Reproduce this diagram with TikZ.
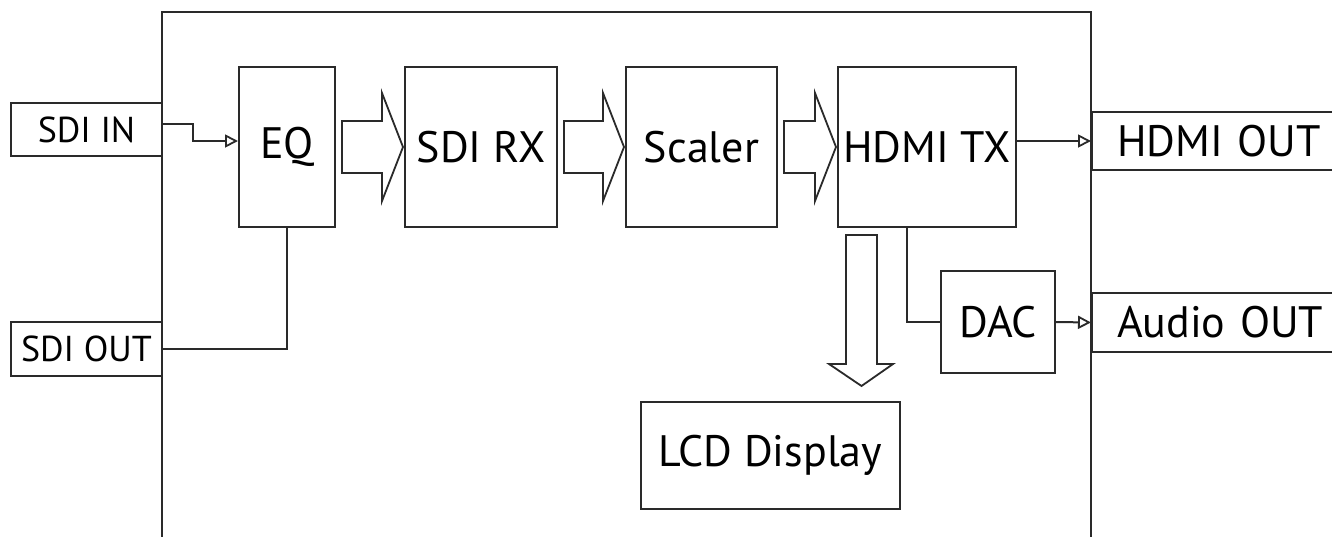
\documentclass[tikz,border=0pt]{standalone}
\usepackage{fontspec}
\setmainfont{PT Sans}
\usetikzlibrary{arrows.meta,calc}
\definecolor{ink}{HTML}{2A2A2A}
\tikzset{
  box/.style={draw=ink, line width=2pt, fill=white, inner sep=0pt, font=\fontsize{44}{50}\selectfont, text=black},
  small/.style={font=\fontsize{36}{42}\selectfont},
  port/.style={box, anchor=west, align=left, text width=240pt, inner xsep=25pt},
  wire/.style={draw=ink, line width=2pt},
  arr/.style={wire, -{Triangle[open, length=13pt, width=13pt, line width=1.8pt]}},
  fat/.style={draw=ink, line width=1.8pt, fill=white, line join=miter},
}
\begin{document}
\begin{tikzpicture}[x=1pt, y=-1pt]
\useasboundingbox (0,0) rectangle (1332,536);
\clip (0,0) rectangle (1332,536);
% outer frame
\draw[wire] (162,600) -- (162,12) -- (1091,12) -- (1091,600);
% nodes
\node[box, small, minimum width=151pt, minimum height=53pt] (sdiin) at (86.5,129.5) {SDI IN};
\node[box, small, minimum width=151pt, minimum height=54pt] (sdiout) at (86.5,349) {SDI OUT};
\node[box, minimum width=96pt, minimum height=160pt] (eq) at (287,147) {EQ};
\node[box, minimum width=152pt, minimum height=160pt] (sdirx) at (481,147) {SDI RX};
\node[box, minimum width=151pt, minimum height=160pt] (scaler) at (701.5,147) {Scaler};
\node[box, minimum width=178pt, minimum height=160pt] (hdmitx) at (927,147) {HDMI TX};
\node[port, minimum height=58pt] (hdmiout) at (1091,141) {HDMI OUT};
\node[port, minimum height=59pt] (audioout) at (1091,322.5) {Audio OUT};
\node[box, minimum width=114pt, minimum height=102pt] (dac) at (998,322) {DAC};
\node[box, minimum width=259pt, minimum height=107pt] (lcd) at (770.5,455.5) {LCD Display};
% connectors
\draw[arr] ([yshift=5.5pt]sdiin.east) -- ++(30,0) |- ([yshift=6pt]eq.west);
\draw[wire] (eq.south) |- (sdiout.east);
\draw[arr] (hdmitx.east |- hdmiout.west) -- (hdmiout.west);
\draw[wire] ([xshift=-20pt]hdmitx.south) |- (dac.west);
\draw[arr] (dac.east) -- (audioout.west);
% block arrows
\foreach \a/\b in {eq/sdirx, sdirx/scaler, scaler/hdmitx}{
  \path (\a.east) coordinate (s) (\b.west) coordinate (t);
  \draw[fat] ($(s)+(6,-26)$) -- ($(t)+(-22,-26)$) -- ($(t)+(-22,-54)$) -- ($(t)+(-1,0)$)
     -- ($(t)+(-22,54)$) -- ($(t)+(-22,26)$) -- ($(s)+(6,26)$) -- cycle;
}
% down arrow to LCD
\draw[fat] (846,235) -- (877,235) -- (877,364) -- (893,364) -- (861.5,386) -- (829,364) -- (846,364) -- cycle;
\end{tikzpicture}
\end{document}
